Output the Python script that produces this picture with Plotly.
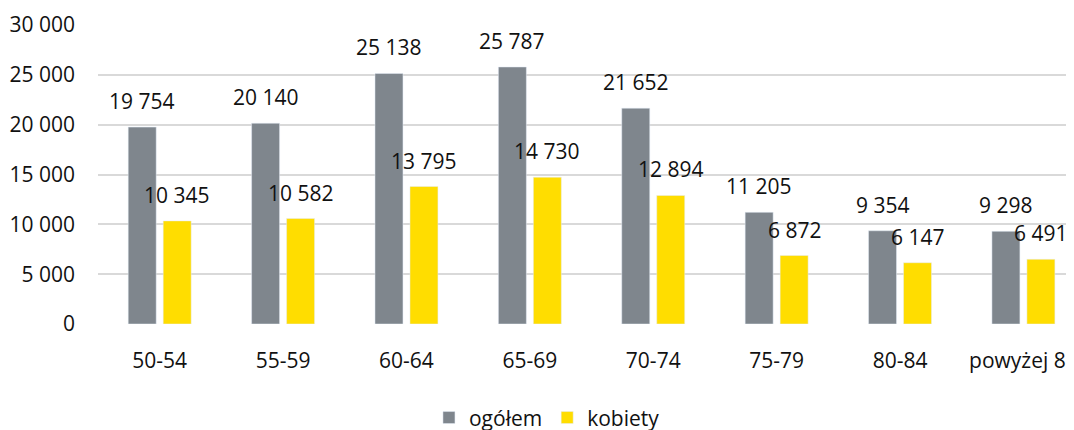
import plotly.graph_objects as go

# age groups and counts
categories = ["50-54", "55-59", "60-64", "65-69", "70-74", "75-79", "80-84", "powyżej 85"]
ogolem = [19754, 20140, 25138, 25787, 21652, 11205, 9354, 9298]
kobiety = [10345, 10582, 13795, 14730, 12894, 6872, 6147, 6491]

y_ticks = [0, 5000, 10000, 15000, 20000, 25000, 30000]

GREY = "#7f868d"
YELLOW = "#ffdd00"
FONT = "Open Sans"
TXT = "#111111"


def fmt(v):
    return f"{v:,}".replace(",", " ")


fig = go.Figure()
fig.add_trace(go.Bar(x=categories, y=ogolem, name="ogółem", marker_color=GREY,
                     hoverinfo="skip"))
fig.add_trace(go.Bar(x=categories, y=kobiety, name="kobiety", marker_color=YELLOW,
                     hoverinfo="skip"))

# value labels sit a bit above each bar, Excel style
slot_px = 35
for series, dx in ((ogolem, -slot_px / 2), (kobiety, slot_px / 2)):
    for cat, v in zip(categories, series):
        fig.add_annotation(
            x=cat, y=v, text=fmt(v), showarrow=False,
            xanchor="center", yanchor="middle",
            xshift=dx, yshift=26,
            font=dict(family=FONT, size=21, color=TXT),
        )

# the original chart runs past the right edge, so the last group is cut
# (page body has an 8px margin, hence 1066x422)
fig.update_layout(
    width=1066, height=422,
    margin=dict(l=90, r=0, t=17, b=106, autoexpand=False),
    barmode="group", bargap=0.433, bargroupgap=0.2,
    plot_bgcolor="white", paper_bgcolor="white",
    font=dict(family=FONT, size=21, color=TXT),
    separators=", ",
    xaxis=dict(
        range=[-0.5, 7.41], showgrid=False, zeroline=False, showline=False,
        ticks="", ticklabelstandoff=22, tickfont=dict(size=21), automargin=False,
    ),
    yaxis=dict(
        range=[0, 30000], tickvals=y_ticks, tickformat=",d",
        showgrid=True, gridcolor="#d9d9d9", gridwidth=1.5,
        zeroline=False, showline=False, ticks="", automargin=False,
        ticklabelstandoff=22, tickfont=dict(size=21),
    ),
    legend=dict(
        orientation="h", x=0.46, xanchor="center", y=-0.314, yanchor="middle",
        font=dict(size=21), itemwidth=30, traceorder="normal",
    ),
)

fig.write_html("out.html")
